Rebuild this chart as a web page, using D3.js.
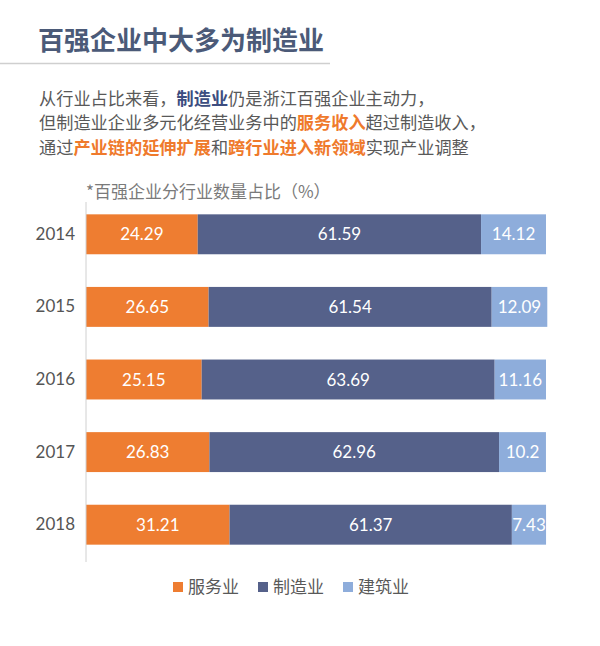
<!DOCTYPE html>
<html><head><meta charset="utf-8">
<script src="https://cdn.jsdelivr.net/npm/d3@7"></script>
<style>
body{margin:0;background:#fff;}
svg{display:block;}
</style></head>
<body>
<svg id="c" width="600" height="646"></svg>
<script>
const years = ["2014","2015","2016","2017","2018"];
const seriesNames = ["服务业","制造业","建筑业"];
const service = [24.29, 26.65, 25.15, 26.83, 31.21];
const manufacturing = [61.59, 61.54, 63.69, 62.96, 61.37];
const construction = [14.12, 12.09, 11.16, 10.2, 7.43];
const colors = ["#ee7d31", "#55618a", "#8eaddb"];

const svg = d3.select("#c");
const cjk = "'Noto Sans CJK SC', 'Noto Sans', sans-serif";
const num = "Lato, 'Noto Sans', sans-serif";

// Title
svg.append("text").attr("x", 38).attr("y", 50)
  .attr("font-family", cjk).attr("font-weight", 700).attr("font-size", 26)
  .attr("fill", "#4b5a78").text("百强企业中大多为制造业");
svg.append("line").attr("x1", 0).attr("x2", 330).attr("y1", 63.5).attr("y2", 63.5)
  .attr("stroke", "#cfcfcf").attr("stroke-width", 1.5);

// Paragraph
const lines = [
  [["从行业占比来看，", 0], ["制造业", 1], ["仍是浙江百强企业主动力，", 0]],
  [["但制造业企业多元化经营业务中的", 0], ["服务收入", 2], ["超过制造收入，", 0]],
  [["通过", 0], ["产业链的延伸扩展", 2], ["和", 0], ["跨行业进入新领域", 2], ["实现产业调整", 0]]
];
const segColor = ["#595959", "#3c4d80", "#ef7a2c"];
lines.forEach((ln, i) => {
  const t = svg.append("text").attr("x", 39).attr("y", 104.5 + i * 24.5)
    .attr("font-family", cjk).attr("font-size", 17.2);
  ln.forEach(([s, k]) => {
    t.append("tspan").text(s).attr("fill", segColor[k])
      .attr("font-weight", k ? 700 : 400);
  });
});

// Subtitle
svg.append("text").attr("x", 86).attr("y", 198)
  .attr("font-family", cjk).attr("font-size", 17).attr("fill", "#7a7a7a")
  .text("*百强企业分行业数量占比（%）");

// Chart
const x = d3.scaleLinear().domain([0, 100]).range([86, 546]);
const y = d3.scaleBand().domain(years).range([198, 561]).paddingInner(0.45).paddingOuter(0.225);

const data = years.map((yr, i) => ({year: yr, "服务业": service[i], "制造业": manufacturing[i], "建筑业": construction[i]}));
const stack = d3.stack().keys(seriesNames)(data);

const g = svg.append("g");
stack.forEach((s, si) => {
  g.selectAll(null).data(s).enter().append("rect")
    .attr("x", d => x(d[0])).attr("width", d => x(d[1]) - x(d[0]))
    .attr("y", d => y(d.data.year)).attr("height", y.bandwidth())
    .attr("fill", colors[si]);
  g.selectAll(null).data(s).enter().append("text")
    .attr("x", d => (x(d[0]) + x(d[1])) / 2)
    .attr("y", d => y(d.data.year) + y.bandwidth() / 2)
    .attr("dy", "0.36em").attr("text-anchor", "middle")
    .attr("font-family", num).attr("font-size", 17).attr("fill", "#fff")
    .text(d => d.data[seriesNames[si]]);
});

// Axis
const yAxis = d3.axisLeft(y).tickSize(0).tickPadding(11);
const ax = svg.append("g").attr("transform", "translate(86,0)").call(yAxis);
ax.select(".domain").attr("stroke", "#d0d0d0").attr("d", "M0,202V562");
ax.selectAll("text").attr("font-family", num).attr("font-size", 17).attr("fill", "#555");

// Legend
const legX = [173, 258, 343];
seriesNames.forEach((n, i) => {
  svg.append("rect").attr("x", legX[i]).attr("y", 582).attr("width", 10).attr("height", 10).attr("fill", colors[i]);
  svg.append("text").attr("x", legX[i] + 15).attr("y", 587).attr("dy", "0.36em")
    .attr("font-family", cjk).attr("font-size", 17).attr("fill", "#595959").text(n);
});
</script>
</body></html>
